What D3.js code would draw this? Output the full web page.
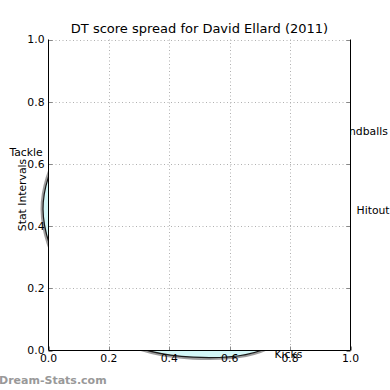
<!DOCTYPE html>
<html><head><meta charset="utf-8">
<script src="https://cdn.jsdelivr.net/npm/d3@7"></script>
<style>body{margin:0;background:#fff}svg{display:block}text{font-family:"DejaVu Sans",sans-serif}</style>
</head><body><svg id="c" width="390" height="390"></svg>
<script>
const chartTitle = "DT score spread for David Ellard (2011)";
const yAxisLabel = "Stat Intervals";
const watermark = "Dream-Stats.com";
// radar spokes (only the four labels that poke out of the plot are readable)
const categories = ["Kicks","","Hitout","Handballs","","","","","Tackle","","","",""];
const values = [1.05, 0.9375, 0.875, 0.844, 0.75, 0.8125, 0.78, 0.844, 0.894, 0.969, 0.979, 1.025, 1.016];
const xTickValues = [0, 0.2, 0.4, 0.6, 0.8, 1.0];
const yTickValues = [0, 0.2, 0.4, 0.6, 0.8, 1.0];

const svg = d3.select("#c");
const W = 390, H = 390;
const plot = {left: 48.5, right: 350.5, top: 39.5, bottom: 350.5};
const x = d3.scaleLinear([0, 1], [plot.left, plot.right]);
const y = d3.scaleLinear([0, 1], [plot.bottom, plot.top]);
const fmt = d3.format(".1f");
const FS = 10.8;

svg.append("rect").attr("width", W).attr("height", H).attr("fill", "#fff");

// ---- hidden polar (radar) axes behind the cartesian one ----
const cx = x(0.493), cy = y(0.501);
const rScale = d3.scaleLinear([0, 1], [0, 160]);
const startDeg = 153.8;
const angle = d3.scaleLinear([0, categories.length],
  [startDeg * Math.PI / 180, (startDeg - 360) * Math.PI / 180]);

const radar = svg.append("g").attr("transform", `translate(${cx},${cy})`);
const radial = d3.lineRadial().angle((d, i) => angle(i)).radius(d => rScale(d))
  .curve(d3.curveCardinalClosed.tension(0));
radar.append("path").attr("d", radial(values)).attr("fill", "none")
  .attr("stroke", "#8c8c8c").attr("stroke-width", 5).attr("stroke-opacity", 0.85);
radar.append("path").attr("d", radial(values)).attr("fill", "#d3f7f7")
  .attr("stroke", "#1a1a1a").attr("stroke-width", 1.2);

// spoke labels (placement of the readable ones)
const labelPlacement = {
  "Kicks": {deg: -60.3, r: 1.149},
  "Hitout": {deg: -5.1, r: 1.1025},
  "Handballs": {deg: 21.2, r: 1.097},
  "Tackle": {deg: 166.2, r: 1.1025}
};
categories.forEach(c => {
  const p = labelPlacement[c];
  if (!c || !p) return;
  const a = p.deg * Math.PI / 180, rr = rScale(p.r);
  svg.append("text").attr("x", cx + rr * Math.cos(a)).attr("y", cy - rr * Math.sin(a))
    .attr("dy", "0.36em").attr("text-anchor", "middle").attr("font-size", FS).attr("fill", "#000").text(c);
});

// ---- cartesian axes on top ----
svg.append("rect").attr("x", plot.left).attr("y", plot.top)
  .attr("width", plot.right - plot.left).attr("height", plot.bottom - plot.top).attr("fill", "#fff");

const grid = svg.append("g").attr("stroke", "#b0b0b0").attr("stroke-width", 1).attr("stroke-dasharray", "1,2.5");
xTickValues.filter(v => v > 0 && v < 1).forEach(v => {
  grid.append("line").attr("x1", Math.round(x(v)) + 0.5).attr("x2", Math.round(x(v)) + 0.5)
    .attr("y1", plot.top).attr("y2", plot.bottom);
});
yTickValues.filter(v => v > 0).forEach(v => {
  grid.append("line").attr("y1", Math.round(y(v)) + 0.5).attr("y2", Math.round(y(v)) + 0.5)
    .attr("x1", plot.left).attr("x2", plot.right);
});

// ticks (inward, both sides)
const ticks = svg.append("g").attr("stroke", "#888").attr("stroke-width", 1);
xTickValues.forEach(v => {
  const px = Math.round(x(v)) + 0.5;
  ticks.append("line").attr("x1", px).attr("x2", px).attr("y1", plot.bottom).attr("y2", plot.bottom - 4);
});
yTickValues.forEach(v => {
  const py = Math.round(y(v)) + 0.5;
  ticks.append("line").attr("y1", py).attr("y2", py).attr("x1", plot.left).attr("x2", plot.left + 4);
  ticks.append("line").attr("y1", py).attr("y2", py).attr("x1", plot.right).attr("x2", plot.right - 4);
});

// spines (left, right, bottom)
const sp = svg.append("g").attr("stroke", "#000").attr("stroke-width", 1);
sp.append("line").attr("x1", plot.left).attr("x2", plot.left).attr("y1", plot.top).attr("y2", plot.bottom);
sp.append("line").attr("x1", plot.right).attr("x2", plot.right).attr("y1", plot.top).attr("y2", plot.bottom);
sp.append("line").attr("x1", plot.left).attr("x2", plot.right).attr("y1", plot.bottom).attr("y2", plot.bottom);

// tick labels
xTickValues.forEach(v => {
  svg.append("text").attr("x", x(v)).attr("y", plot.bottom + 11).attr("text-anchor", "middle")
    .attr("font-size", FS).attr("fill", "#000").text(fmt(v));
});
yTickValues.forEach(v => {
  svg.append("text").attr("x", plot.left - 4).attr("y", y(v)).attr("dy", "0.36em").attr("text-anchor", "end")
    .attr("font-size", FS).attr("fill", "#000").text(fmt(v));
});

// title, axis label, watermark
svg.append("text").attr("x", (plot.left + plot.right) / 2).attr("y", 33).attr("text-anchor", "middle")
  .attr("font-size", 13).attr("fill", "#000").text(chartTitle);
svg.append("text").attr("transform", `translate(26,${(plot.top + plot.bottom) / 2}) rotate(-90)`)
  .attr("text-anchor", "middle").attr("font-size", FS).attr("fill", "#000").text(yAxisLabel);
svg.append("text").attr("x", -1).attr("y", 384).attr("font-size", 11).attr("font-weight", "bold")
  .attr("fill", "#999").text(watermark);
</script></body></html>
